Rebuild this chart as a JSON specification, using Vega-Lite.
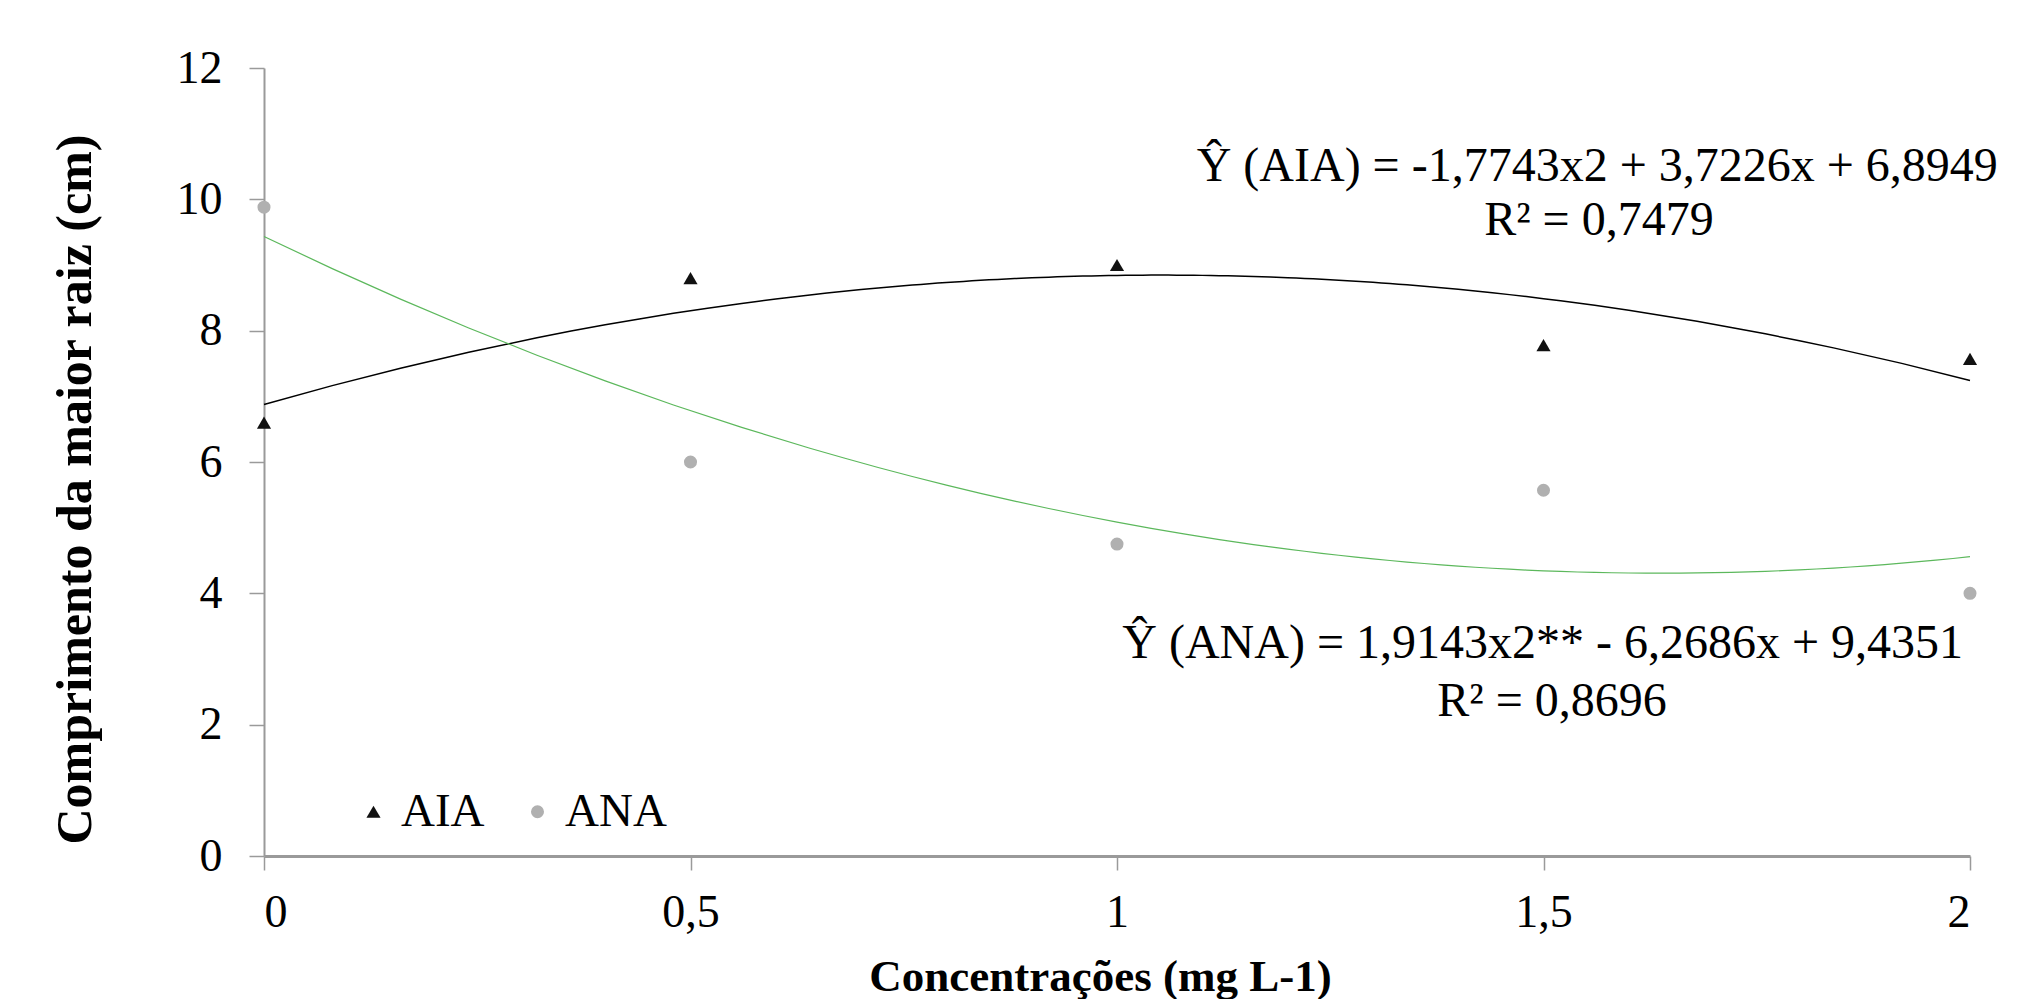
{
  "$schema": "https://vega.github.io/schema/vega-lite/v6.json",
  "width": 1706,
  "height": 788,
  "autosize": {"type": "none"},
  "padding": {"left": 264, "top": 68, "right": 49, "bottom": 143},
  "background": "white",
  "config": {
    "font": "Liberation Serif",
    "view": {"stroke": null},
    "axis": {"labelFont": "Liberation Serif", "titleFont": "Liberation Serif"},
    "legend": {"labelFont": "Liberation Serif", "padding": 0}
  },
  "datasets": {
    "pts": [
      {"x": 0, "y": 6.6, "series": "AIA"},
      {"x": 0.5, "y": 8.8, "series": "AIA"},
      {"x": 1, "y": 9.0, "series": "AIA"},
      {"x": 1.5, "y": 7.78, "series": "AIA"},
      {"x": 2, "y": 7.57, "series": "AIA"},
      {"x": 0, "y": 9.88, "series": "ANA"},
      {"x": 0.5, "y": 6.0, "series": "ANA"},
      {"x": 1, "y": 4.75, "series": "ANA"},
      {"x": 1.5, "y": 5.57, "series": "ANA"},
      {"x": 2, "y": 4.0, "series": "ANA"}
    ],
    "labels": [
      {"x": 1.563, "y": 10.49, "text": "Ŷ (AIA) = -1,7743x2 + 3,7226x + 6,8949"},
      {"x": 1.565, "y": 9.67, "text": "R² = 0,7479"},
      {"x": 1.499, "y": 3.23, "text": "Ŷ (ANA) = 1,9143x2** - 6,2686x + 9,4351"},
      {"x": 1.51, "y": 2.34, "text": "R² = 0,8696"}
    ]
  },
  "layer": [
    {
      "data": {"name": "pts"},
      "transform": [
        {"filter": "datum.series === 'AIA'"},
        {"regression": "y", "on": "x", "method": "poly", "order": 2, "extent": [0, 2]}
      ],
      "mark": {"type": "line", "color": "#000000", "strokeWidth": 1.5},
      "encoding": {
        "x": {"field": "x", "type": "quantitative"},
        "y": {"field": "y", "type": "quantitative"}
      }
    },
    {
      "data": {"name": "pts"},
      "transform": [
        {"filter": "datum.series === 'ANA'"},
        {"regression": "y", "on": "x", "method": "poly", "order": 2, "extent": [0, 2]}
      ],
      "mark": {"type": "line", "color": "#5cb85c", "strokeWidth": 1.2},
      "encoding": {
        "x": {"field": "x", "type": "quantitative"},
        "y": {"field": "y", "type": "quantitative"}
      }
    },
    {
      "data": {"name": "pts"},
      "mark": {"type": "point", "filled": true, "opacity": 1, "strokeWidth": 0},
      "encoding": {
        "x": {
          "field": "x", "type": "quantitative",
          "scale": {"domain": [0, 2], "nice": false},
          "axis": {
            "values": [0, 0.5, 1, 1.5, 2],
            "format": "~g",
            "labelExpr": "replace(datum.label, '.', ',')",
            "grid": false,
            "domainColor": "#9a9a9a",
            "domainWidth": 3,
            "tickColor": "#9a9a9a",
            "tickWidth": 1.5,
            "tickSize": 14,
            "labelFontSize": 46,
            "labelColor": "#000000",
            "labelPadding": 20,
            "title": "Concentrações (mg L-1)",
            "titleFontSize": 45,
            "titleFontWeight": "bold",
            "titleColor": "#000000",
            "titleX": 836,
            "titleY": 120,
            "titleBaseline": "middle",
            "titleAlign": "center"
          }
        },
        "y": {
          "field": "y", "type": "quantitative",
          "scale": {"domain": [0, 12], "nice": false},
          "axis": {
            "values": [0, 2, 4, 6, 8, 10, 12],
            "format": "d",
            "grid": false,
            "domainColor": "#9a9a9a",
            "domainWidth": 2,
            "tickColor": "#9a9a9a",
            "tickWidth": 1.5,
            "tickSize": 15,
            "labelFontSize": 46,
            "labelColor": "#000000",
            "labelPadding": 27,
            "title": "Comprimento da maior raiz (cm)",
            "titleFontSize": 50,
            "titleFontWeight": "bold",
            "titleColor": "#000000",
            "titleX": -189,
            "titleY": 421,
            "titleAngle": -90,
            "titleBaseline": "middle",
            "titleAlign": "center"
          }
        },
        "color": {
          "field": "series", "type": "nominal",
          "scale": {"domain": ["AIA", "ANA"], "range": ["#111111", "#b0b0b0"]},
          "legend": {
            "title": null,
            "orient": "none",
            "direction": "horizontal",
            "legendX": 86,
            "legendY": 720,
            "labelFontSize": 47,
            "labelColor": "#000000",
            "columnPadding": 29,
            "labelOffset": 4
          }
        },
        "shape": {
          "field": "series", "type": "nominal",
          "scale": {"domain": ["AIA", "ANA"], "range": ["triangle-up", "circle"]}
        },
        "size": {
          "field": "series", "type": "nominal",
          "scale": {"domain": ["AIA", "ANA"], "range": [200, 170]},
          "legend": null
        }
      }
    },
    {
      "data": {"name": "labels"},
      "mark": {"type": "text", "font": "Liberation Serif", "fontSize": 48, "color": "#000000", "align": "center", "baseline": "middle"},
      "encoding": {
        "x": {"field": "x", "type": "quantitative"},
        "y": {"field": "y", "type": "quantitative"},
        "text": {"field": "text"}
      }
    }
  ]
}
